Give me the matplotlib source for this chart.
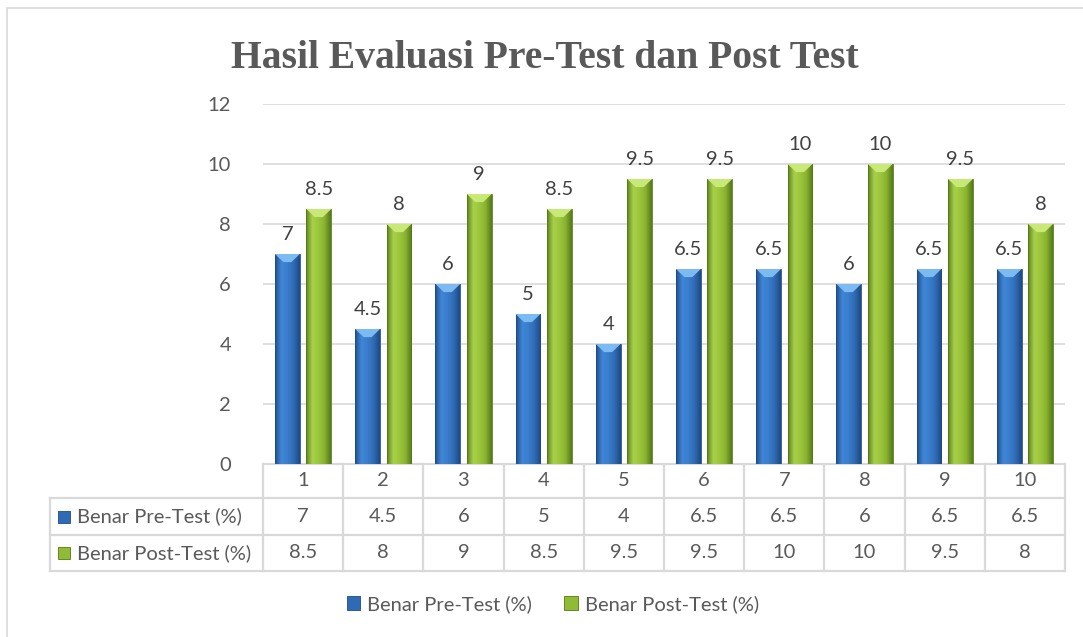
import numpy as np
import matplotlib.pyplot as plt
from matplotlib.colors import LinearSegmentedColormap
from matplotlib.patches import Rectangle, Polygon, Patch
from matplotlib.transforms import blended_transform_factory

# data
categories = ["1", "2", "3", "4", "5", "6", "7", "8", "9", "10"]
pre_test = [7, 4.5, 6, 5, 4, 6.5, 6.5, 6, 6.5, 6.5]
post_test = [8.5, 8, 9, 8.5, 9.5, 9.5, 10, 10, 9.5, 8]
series_names = ["Benar Pre-Test (%)", "Benar Post-Test (%)"]
title = "Hasil Evaluasi Pre-Test dan Post Test"

TXT = "#595959"
GRID = "#d9d9d9"
FONT = "Lato"
FS = 14.5

blue_cm = LinearSegmentedColormap.from_list(
    "b", ["#234f8c", "#3f86d8", "#3a7dcc", "#2f6bb4", "#1f4a86"])
green_cm = LinearSegmentedColormap.from_list(
    "g", ["#5f8420", "#a8d14a", "#9cc63c", "#88b330", "#56781a"])
blue_top = "#7cbaf2"
green_top = "#c8e878"

plt.rcParams["font.family"] = [FONT, "DejaVu Sans"]

W, H = 1083, 637
fig = plt.figure(figsize=(W / 100, H / 100), dpi=100)
ax = fig.add_axes([263 / W, 1 - 464 / H, 802 / W, 360 / H])

x = np.arange(len(categories))
bw = 0.31
off = 0.196
grad = np.linspace(0, 1, 64).reshape(1, -1)


def fancy_bars(xs, vals, cmap, topc, edge):
    bars = ax.bar(xs, vals, bw, color="none", edgecolor=edge, linewidth=0.6, zorder=3)
    for b in bars:
        x0, w, h = b.get_x(), b.get_width(), b.get_height()
        im = ax.imshow(grad, extent=(x0, x0 + w, 0, h), aspect="auto", cmap=cmap,
                       zorder=2, interpolation="bilinear")
        im.set_clip_path(b)
        ax.add_patch(Polygon([(x0, h), (x0 + w, h), (x0 + w * 0.66, h - 0.27),
                              (x0 + w * 0.34, h - 0.27)], closed=True,
                             facecolor=topc, edgecolor="none", zorder=4))
    return bars


b1 = fancy_bars(x - off, pre_test, blue_cm, blue_top, "#1f4a86")
b2 = fancy_bars(x + off, post_test, green_cm, green_top, "#56781a")

for bars, vals in ((b1, pre_test), (b2, post_test)):
    for b, v in zip(bars, vals):
        ax.annotate(f"{v:g}", (b.get_x() + b.get_width() / 2, v), xytext=(0, 8),
                    textcoords="offset points", ha="center", va="bottom",
                    fontsize=FS, color="#404040")

ax.set_xlim(-0.5, len(categories) - 0.5)
ax.set_ylim(0, 12)
ax.set_yticks(range(0, 13, 2))
ax.yaxis.grid(True, color=GRID, linewidth=1.2, zorder=0)
ax.set_axisbelow(True)
ax.tick_params(axis="y", length=0, pad=23, labelsize=FS, labelcolor=TXT)
ax.set_xticks([])
for s in ax.spines.values():
    s.set_visible(False)

# data table under the plot
tr = blended_transform_factory(ax.transData, ax.transAxes)
px = 1 / 360.0
rows_y = [0, -34 * px, -71 * px, -107 * px]
left_x = -0.5 - 213 / 80.2
lc = dict(color=GRID, linewidth=1.6, transform=tr, clip_on=False, zorder=1)

ax.plot([-0.5, len(categories) - 0.5], [rows_y[0]] * 2, **lc)
for yy in rows_y[1:]:
    ax.plot([left_x, len(categories) - 0.5], [yy] * 2, **lc)
ax.plot([left_x, left_x], [rows_y[1], rows_y[3]], **lc)
for i in range(len(categories) + 1):
    ax.plot([i - 0.5, i - 0.5], [rows_y[0], rows_y[3]], **lc)

row_vals = [categories, [f"{v:g}" for v in pre_test], [f"{v:g}" for v in post_test]]
for r, vals in enumerate(row_vals):
    yc = (rows_y[r] + rows_y[r + 1]) / 2
    for i, v in enumerate(vals):
        ax.text(i, yc, v, transform=tr, ha="center", va="center",
                fontsize=FS, color=TXT, clip_on=False)

sq_cols = [("#2f6bb4", "#1f4a86"), ("#8fbb35", "#56781a")]
for r, name in enumerate(series_names):
    yc = (rows_y[r + 1] + rows_y[r + 2]) / 2
    ax.add_patch(Rectangle((left_x + 8 / 80.2, yc - 6 * px), 12 / 80.2, 12 * px,
                           transform=tr, facecolor=sq_cols[r][0],
                           edgecolor=sq_cols[r][1], linewidth=0.6, clip_on=False))
    ax.text(left_x + 27 / 80.2, yc, name, transform=tr, ha="left", va="center",
            fontsize=FS, color=TXT, clip_on=False)

# legend
handles = [Patch(facecolor=c[0], edgecolor=c[1], linewidth=0.6) for c in sq_cols]
fig.legend(handles, series_names, loc="center", bbox_to_anchor=(553 / W, 1 - 604 / H),
           ncol=2, frameon=False, fontsize=FS, labelcolor=TXT,
           handlelength=0.65, handleheight=0.65, handletextpad=0.35, columnspacing=1.6)

fig.text(545 / W, 1 - 58 / H, title, ha="center", va="center", fontsize=28.5,
         fontweight="bold", color=TXT, family="Liberation Serif")

# outer chart border
fig.add_artist(Rectangle((7 / W, -0.1), 1.2, 1 - 8 / H + 0.1, transform=fig.transFigure,
                         facecolor="none", edgecolor=GRID, linewidth=1.2))

fig.savefig("out.png", dpi=100)
